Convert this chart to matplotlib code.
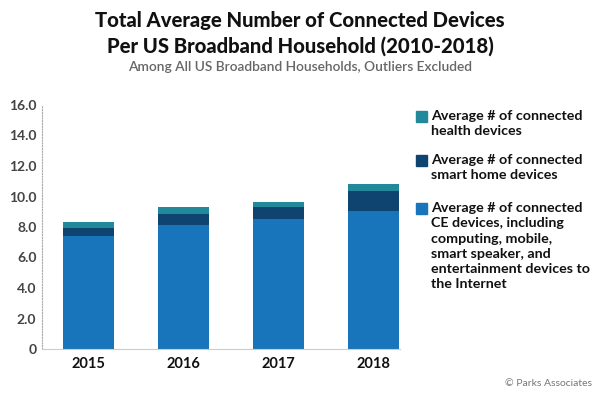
import matplotlib
matplotlib.use("Agg")
import matplotlib.pyplot as plt
from matplotlib.patches import Rectangle
import numpy as np

years = ["2015", "2016", "2017", "2018"]
ce_devices = [7.4, 8.1, 8.5, 9.05]
smart_home = [0.52, 0.77, 0.82, 1.28]
health = [0.40, 0.44, 0.31, 0.48]
yticks = [0, 2, 4, 6, 8, 10, 12, 14, 16]
ytick_labels = ["0", "2.0", "4.0", "6.0", "8.0", "10.0", "12.0", "14.0", "16.0"]

legend_labels = [
    "Average # of connected\nhealth devices",
    "Average # of connected\nsmart home devices",
    "Average # of connected\nCE devices, including\ncomputing, mobile,\nsmart speaker, and\nentertainment devices to\nthe Internet",
]

c_ce = "#1874bb"
c_sh = "#0f4470"
c_he = "#22899b"

plt.rcParams['font.family'] = ['Lato', 'DejaVu Sans']

fig = plt.figure(figsize=(6, 4), dpi=100)
ax = fig.add_axes([0.07, 0.1275, 0.597, 0.61])

x = np.arange(len(years))
w = 0.54
ce = np.array(ce_devices)
sh = np.array(smart_home)
he = np.array(health)
ax.bar(x, ce, w, color=c_ce)
ax.bar(x, sh, w, bottom=ce, color=c_sh)
ax.bar(x, he, w, bottom=ce + sh, color=c_he)

ax.set_xlim(-0.49, 3.28)
ax.set_ylim(0, 16)
ax.set_yticks(yticks)
ax.set_yticklabels(ytick_labels, fontsize=10, fontweight='bold', color='#444444')
ax.set_xticks(x)
ax.set_xticklabels(years, fontsize=10.5, fontweight='bold', color='#111111')
ax.tick_params(axis='both', length=0, pad=4)
ax.tick_params(axis='x', pad=6)
for s in ['top', 'right']:
    ax.spines[s].set_visible(False)
ax.spines['left'].set_linestyle((0, (1, 1.5)))
ax.spines['left'].set_color('#aaaaaa')
ax.spines['left'].set_linewidth(0.8)
ax.spines['bottom'].set_color('#cccccc')
ax.spines['bottom'].set_linewidth(0.8)

fig.text(0.5, 0.948, "Total Average Number of Connected Devices", ha='center', va='center',
         fontsize=14.6, fontweight='black', color='#111111')
fig.text(0.5, 0.886, "Per US Broadband Household (2010-2018)", ha='center', va='center',
         fontsize=14.6, fontweight='black', color='#111111')
fig.text(0.5, 0.832, "Among All US Broadband Households, Outliers Excluded", ha='center', va='center',
         fontsize=9.9, color='#666666', fontweight='semibold')

# legend (manual)
colors = [c_he, c_sh, c_ce]
tops = [110, 154, 202]
for lab, col, ty in zip(legend_labels, colors, tops):
    fig.add_artist(Rectangle((416 / 600, 1 - (ty + 12) / 400), 11 / 600, 11 / 400,
                             transform=fig.transFigure, color=col))
    fig.text(431 / 600, 1 - ty / 400, lab, ha='left', va='top', fontsize=10.3,
             fontweight='bold', color='#111111', linespacing=1.33)

fig.text(592 / 600, 1 - 383 / 400, "© Parks Associates", ha='right', va='center',
         fontsize=7.5, color='#777777')

fig.savefig("out.png", dpi=100)
